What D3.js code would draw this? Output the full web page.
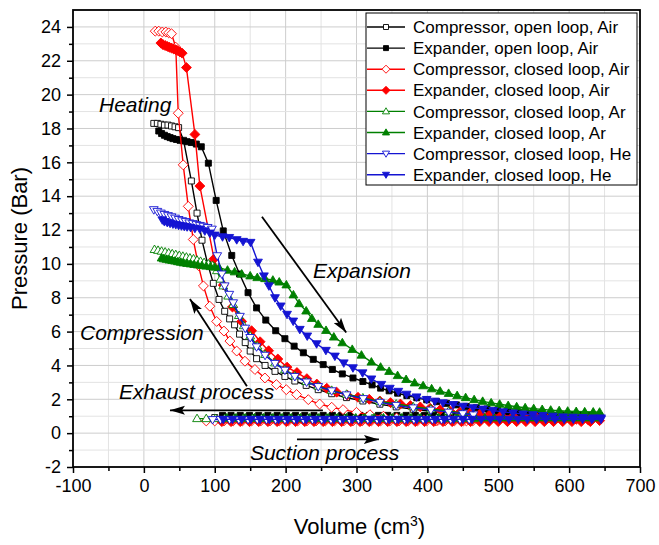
<!DOCTYPE html>
<html>
<head>
<meta charset="utf-8">
<script src="https://cdn.jsdelivr.net/npm/d3@7"></script>
<style>
  body { margin: 0; background: #fff; }
  svg { display: block; font-family: "Liberation Sans", Arial, sans-serif; }
</style>
</head>
<body>
<svg id="chart" width="659" height="545"></svg>
<script>
// P-V loops: [volume cm3, pressure bar]

const compOpenAir = [
  [14,18.3],[19,18.3],[24,18.25],[29,18.2],[34,18.2],[39,18.15],[44,18.1],[49,18.05],[56,17.3],
  [67,14.9],[75,13.0],[82,11.4],[90,10.0],[98,8.85],[106,7.9],[114,7.2],[121,6.75],[128,6.4],[135,5.85],
  [143,5.35],[150,4.85],[159,4.4],[171,4.0],[185,3.65],[199,3.35],[213,3.08],[229,2.82],[246,2.57],
  [265,2.33],[286,2.1],[309,1.9],[333,1.71],[356,1.55],[380,1.41],[405,1.29],[430,1.17],[450,1.09],[463,1.03],
  [463,0.92],[450,0.92],[437,0.92],[424,0.92],[411,0.93],[398,0.93],[385,0.92],[372,0.92],[359,0.92],
  [346,0.93],[333,0.92],[320,0.92],[307,0.92],[294,0.93],[281,0.92],[268,0.92],[255,0.92],[242,0.92],
  [229,0.93],[216,0.92],[203,0.92],[190,0.92],[177,0.92],[164,0.93],[151,0.92],[138,0.92],[125,0.92],
  [112,0.92],[100,0.92]
];

const expOpenAir = [
  [21,17.85],[25,17.7],[29,17.6],[33,17.52],[37,17.46],[41,17.4],[46,17.35],[51,17.3],[56,17.26],
  [61,17.22],[67,17.17],[74,17.08],[81,16.92],[91,15.95],[102,13.75],[112,11.95],[124,10.5],[135,9.4],
  [147,8.3],[159,7.4],[172,6.68],[186,6.05],[199,5.58],[212,5.14],[225,4.75],[239,4.36],[253,4.05],
  [266,3.76],[280,3.5],[295,3.26],[309,3.05],[322,2.85],[334,2.66],[346,2.5],[358,2.36],[371,2.22],
  [385,2.09],[399,1.97],[413,1.86],[427,1.76],[441,1.67],[455,1.58],[469,1.5],[484,1.43],[499,1.36],
  [514,1.3],[529,1.24],[544,1.19],[559,1.15],[574,1.11],[589,1.08],[604,1.06],[619,1.04],[632,1.03],[643,1.02],
  [630,1.05],[617,1.05],[604,1.05],[591,1.05],[578,1.05],[565,1.05],[552,1.05],[539,1.05],[526,1.05],
  [513,1.05],[500,1.05],[487,1.05],[474,1.05],[461,1.05],[448,1.05],[435,1.05],[422,1.05],[409,1.05],
  [396,1.05],[383,1.05],[370,1.05],[357,1.05],[344,1.05],[331,1.05],[318,1.05],[305,1.05],[292,1.05],
  [279,1.05],[266,1.05],[253,1.05],[240,1.05],[227,1.05],[214,1.05],[201,1.05],[188,1.05],[175,1.05],
  [162,1.05],[149,1.05],[136,1.05],[123,1.05],[111,1.05]
];

const compClosedAir = [
  [16,23.75],[21,23.75],[26,23.7],[31,23.7],[35,23.65],[39,23.6],[45,22.8],[48.5,18.9],[55.5,15.85],
  [62.6,13.4],[69.7,11.44],[77,9.9],[84,8.7],[93,7.5],[102.7,6.6],[113,6.03],[121.4,5.44],[131,4.85],
  [142.6,4.25],[156.7,3.76],[170.8,3.26],[187,2.87],[201,2.57],[215.5,2.28],[232,1.98],[248,1.72],
  [265,1.53],[281,1.39],[300,1.23],[319,1.09],[338,1.0],[356.5,0.9],[375,0.83],[395,0.78],[415,0.75],
  [435,0.73],[455,0.72],[464,0.72],
  [451,0.72],[438,0.72],[425,0.72],[412,0.72],[399,0.72],[386,0.72],[373,0.72],[360,0.72],[347,0.72],
  [334,0.72],[321,0.72],[308,0.72],[295,0.72],[282,0.72],[269,0.72],[256,0.72],[243,0.72],[230,0.72],
  [217,0.72],[204,0.72],[191,0.72],[178,0.72],[165,0.72],[152,0.72],[139,0.72],[126,0.72],[113,0.72],
  [100,0.72],[88,0.72]
];

const expClosedAir = [
  [24,23.05],[27,22.95],[30,22.9],[33,22.85],[36,22.8],[39,22.75],[42,22.7],[45,22.65],[48,22.6],
  [51,22.52],[54,22.45],[60,21.6],[72,17.65],[79,14.6],[99,10.3],[112,8.75],[125,7.45],[138,6.6],
  [152,6.05],[164,5.4],[176,4.87],[189,4.38],[202,3.9],[216,3.58],[230,3.22],[244,2.9],[258,2.65],
  [272,2.42],[287,2.25],[302,2.12],[318,2.0],[333,1.9],[348,1.8],[362,1.72],[376,1.63],[390,1.55],
  [404,1.47],[418,1.38],[432,1.3],[446,1.24],[460,1.18],[474,1.13],[488,1.09],[504,1.04],[521,1.0],
  [537,0.96],[554,0.93],[571,0.89],[591,0.86],[610,0.82],[627,0.78],[643,0.74],
  [630,0.68],[617,0.68],[604,0.68],[591,0.68],[578,0.68],[565,0.68],[552,0.68],[539,0.68],[526,0.68],
  [513,0.68],[500,0.68],[487,0.68],[474,0.68],[461,0.68],[448,0.68],[435,0.68],[422,0.68],[409,0.68],
  [396,0.68],[383,0.68],[370,0.68],[357,0.68],[344,0.68],[331,0.68],[318,0.68],[305,0.68],[292,0.68],
  [279,0.68],[266,0.68],[253,0.68],[240,0.68],[227,0.68],[214,0.68],[201,0.68],[188,0.68],[175,0.68],
  [162,0.68],[149,0.68],[136,0.68],[123,0.68],[110,0.68]
];

const compClosedAr = [
  [15,10.85],[20,10.8],[25,10.75],[30,10.7],[35,10.65],[40,10.6],[45,10.55],[50,10.5],[55,10.45],
  [60,10.4],[65,10.35],[70,10.3],[75,10.22],[80,10.15],[85,10.08],[91,10.0],[97,9.9],[103,9.6],
  [108,9.1],[112,8.7],[119,8.1],[126,7.6],[134,6.95],[141,6.35],[150,5.75],[160,5.15],[171,4.65],
  [185,4.15],[199,3.75],[213,3.38],[229,3.05],[246,2.78],[265,2.53],[286,2.3],[309,2.08],[333,1.88],
  [356,1.72],[380,1.56],[405,1.43],[430,1.3],[450,1.2],[465,1.12],
  [465,0.86],[452,0.86],[439,0.86],[426,0.86],[413,0.86],[400,0.86],[387,0.86],[374,0.86],[361,0.86],
  [348,0.86],[335,0.86],[322,0.86],[309,0.86],[296,0.86],[283,0.86],[270,0.86],[257,0.86],[244,0.86],
  [231,0.86],[218,0.86],[205,0.86],[192,0.86],[179,0.86],[166,0.86],[153,0.86],[140,0.86],[127,0.86],
  [114,0.86],[101,0.86],[88,0.86],[75,0.86]
];

const expClosedAr = [
  [25,10.35],[28,10.3],[32,10.27],[36,10.23],[40,10.2],[44,10.17],[48,10.13],[52,10.1],[56,10.06],
  [61,10.03],[66,10.0],[71,9.97],[76,9.94],[82,9.9],[88,9.87],[94,9.84],[100,9.81],[106,9.78],
  [118,9.63],[128,9.53],[138,9.4],[150,9.29],[160,9.19],[171,9.13],[182,9.04],[191,8.93],[201,8.76],
  [211,8.17],[219,7.65],[229,7.22],[237,6.78],[246,6.43],[257,6.07],[268,5.68],[280,5.34],[294,4.95],
  [307,4.61],[321,4.2],[334,3.9],[346,3.65],[358,3.4],[370,3.17],[382,2.97],[394,2.8],[406,2.62],
  [418,2.48],[430,2.35],[442,2.22],[454,2.1],[466,1.98],[478,1.88],[490,1.79],[502,1.71],[514,1.63],
  [526,1.56],[538,1.5],[550,1.45],[562,1.4],[574,1.36],[586,1.33],[598,1.3],[610,1.28],[622,1.26],
  [634,1.25],[643,1.24],
  [637,0.9],[624,0.9],[611,0.9],[598,0.9],[585,0.9],[572,0.9],[559,0.9],[546,0.9],[533,0.9],
  [520,0.9],[507,0.9],[494,0.9],[481,0.9],[468,0.9],[455,0.9],[442,0.9],[429,0.9],[416,0.9],
  [403,0.9],[390,0.9],[377,0.9],[364,0.9],[351,0.9],[338,0.9],[325,0.9],[312,0.9],[299,0.9],
  [286,0.9],[273,0.9],[260,0.9],[247,0.9],[234,0.9],[221,0.9],[208,0.9],[195,0.9],[182,0.9],
  [169,0.9],[156,0.9],[143,0.9],[130,0.9],[117,0.9]
];

const compClosedHe = [
  [14,13.2],[19,13.1],[24,13.0],[29,12.92],[34,12.85],[39,12.78],[44,12.7],[49,12.62],[54,12.55],
  [59,12.5],[64,12.42],[69,12.38],[74,12.32],[79,12.27],[84,12.22],[90,12.15],[96,12.05],[103.5,10.48],
  [110,9.4],[114,8.7],[120.5,8.2],[126,7.7],[135.5,6.9],[143,6.2],[150,5.65],[159,5.1],[171,4.6],
  [185,4.12],[199,3.72],[213,3.35],[229.6,3.02],[246,2.75],[265,2.5],[286,2.26],[309.5,2.04],
  [333,1.82],[356,1.64],[380,1.49],[405,1.36],[430,1.24],[450,1.15],[465,1.08],
  [459,0.8],[446,0.8],[433,0.8],[420,0.8],[407,0.8],[394,0.8],[381,0.8],[368,0.8],[355,0.8],
  [342,0.8],[329,0.8],[316,0.8],[303,0.8],[290,0.8],[277,0.8],[264,0.8],[251,0.8],[238,0.8],
  [225,0.8],[212,0.8],[199,0.8],[186,0.8],[173,0.8],[160,0.8],[147,0.8],[134,0.8],[121,0.8],
  [108,0.8],[97,0.8]
];

const expClosedHe = [
  [26,12.6],[29,12.5],[33,12.45],[37,12.4],[41,12.36],[45,12.32],[49,12.28],[53,12.25],[57,12.22],
  [61,12.19],[66,12.15],[72,12.1],[79,12.06],[86,11.95],[93,11.82],[100,11.7],[111,11.6],[120.5,11.56],
  [131,11.43],[140,11.33],[150.6,11.27],[161,10.1],[169.4,9.29],[176.4,8.7],[185,8.0],[193,7.51],
  [202,7.02],[210.7,6.62],[220,6.13],[230.5,5.74],[243.7,5.28],[256.8,4.89],[269.5,4.55],[282,4.15],
  [295,3.86],[308.6,3.56],[321,3.2],[335,2.88],[347,2.65],[359,2.47],[370.6,2.3],[384.7,2.14],
  [399,1.99],[410.6,1.89],[422,1.79],[436.6,1.69],[450.6,1.59],[464.6,1.5],[478.7,1.42],[492.8,1.34],
  [507,1.26],[521,1.19],[535,1.13],[549,1.09],[563,1.04],[577,1.0],[591.5,0.96],[605.6,0.94],
  [619.7,0.92],[633.8,0.9],[645,0.9],
  [645,0.82],[632,0.82],[619,0.82],[606,0.82],[593,0.82],[580,0.82],[567,0.82],[554,0.82],[541,0.82],
  [528,0.82],[515,0.82],[502,0.82],[489,0.82],[476,0.82],[463,0.82],[450,0.82],[437,0.82],[424,0.82],
  [411,0.82],[398,0.82],[385,0.82],[372,0.82],[359,0.82],[346,0.82],[333,0.82],[320,0.82],[307,0.82],
  [294,0.82],[281,0.82],[268,0.82],[255,0.82],[242,0.82],[229,0.82],[216,0.82],[203,0.82],[190,0.82],
  [177,0.82],[164,0.82],[151,0.82],[138,0.82],[125,0.82],[112,0.82]
];

const seriesNames = [
  "Compressor, open loop, Air", "Expander, open loop, Air",
  "Compressor, closed loop, Air", "Expander, closed loop, Air",
  "Compressor, closed loop, Ar", "Expander, closed loop, Ar",
  "Compressor, closed loop, He", "Expander, closed loop, He"
];
const seriesData = [compOpenAir, expOpenAir, compClosedAir, expClosedAir,
                    compClosedAr, expClosedAr, compClosedHe, expClosedHe];

const xTicks = [-100, 0, 100, 200, 300, 400, 500, 600, 700];
const yTicks = [-2, 0, 2, 4, 6, 8, 10, 12, 14, 16, 18, 20, 22, 24];
const xMinor = [-50, 50, 150, 250, 350, 450, 550, 650];
const yMinor = [-1, 1, 3, 5, 7, 9, 11, 13, 15, 17, 19, 21, 23];

// styles
const colors = ["#000", "#000", "#ff0000", "#ff0000", "#008000", "#008000", "#1414d2", "#1414d2"];
const shapes = ["square", "square", "diamond", "diamond", "up", "up", "down", "down"];
const filled = [false, true, false, true, false, true, false, true];

const width = 659, height = 545;
const plot = { left: 73, right: 640, top: 10, bottom: 467 };

const x = d3.scaleLinear().domain([-100, 700]).range([plot.left, plot.right]);
const y = d3.scaleLinear().domain([-2, 25]).range([plot.bottom, plot.top]);

const svg = d3.select("#chart").attr("viewBox", [0, 0, width, height]);

// grid
const grid = svg.append("g");
grid.selectAll(".vg").data(xMinor.concat(xTicks.slice(1, -1))).join("line")
  .attr("x1", d => x(d)).attr("x2", d => x(d))
  .attr("y1", plot.top).attr("y2", plot.bottom)
  .attr("stroke", d => d % 100 === 0 ? "#cdcdcd" : "#e3e3e3").attr("stroke-width", 1);
grid.selectAll(".hg").data(yMinor.concat(yTicks.slice(1))).join("line")
  .attr("y1", d => y(d)).attr("y2", d => y(d))
  .attr("x1", plot.left).attr("x2", plot.right)
  .attr("stroke", d => d % 2 === 0 ? "#cdcdcd" : "#e3e3e3").attr("stroke-width", 1);

// series
svg.append("clipPath").attr("id", "clip").append("rect")
  .attr("x", plot.left).attr("y", plot.top)
  .attr("width", plot.right - plot.left).attr("height", plot.bottom - plot.top);

function symbolPath(shape, s) {
  if (shape === "square") return d3.symbol(d3.symbolSquare, s * s)();
  if (shape === "diamond") return `M0,${-s * 0.62}L${s * 0.62},0L0,${s * 0.62}L${-s * 0.62},0Z`;
  const h = s * 0.9;
  if (shape === "up") return `M0,${-h * 0.62}L${s * 0.55},${h * 0.42}L${-s * 0.55},${h * 0.42}Z`;
  return `M0,${h * 0.62}L${s * 0.55},${-h * 0.42}L${-s * 0.55},${-h * 0.42}Z`;
}

const line = d3.line().x(d => x(d[0])).y(d => y(d[1]));
const marks = svg.append("g").attr("clip-path", "url(#clip)");

seriesData.forEach((data, i) => {
  const g = marks.append("g");
  g.append("path").attr("d", line(data))
    .attr("fill", "none").attr("stroke", colors[i]).attr("stroke-width", 1.4);
  g.selectAll("path.m").data(data).join("path").attr("class", "m")
    .attr("transform", d => `translate(${x(d[0])},${y(d[1])})`)
    .attr("d", symbolPath(shapes[i], shapes[i] === "square" ? 6 : 8))
    .attr("fill", filled[i] ? colors[i] : "#fff")
    .attr("stroke", colors[i]).attr("stroke-width", 0.9);
});

// axes
const fmt = d => String(d);
const xAxis = g => g
  .attr("transform", `translate(0,${plot.bottom})`)
  .call(d3.axisBottom(x).tickValues(xTicks).tickSize(6).tickPadding(6).tickFormat(fmt))
  .call(g => g.select(".domain").remove())
  .call(g => g.selectAll("text").attr("font-size", 18).attr("fill", "#000")
                                  .attr("font-family", "Liberation Sans, Arial, sans-serif"))
  .call(g => g.selectAll("line").attr("stroke-width", 1.5));
const xMinorAxis = g => g
  .attr("transform", `translate(0,${plot.bottom})`)
  .call(d3.axisBottom(x).tickValues(xMinor).tickSize(4).tickFormat(""))
  .call(g => g.select(".domain").remove())
  .call(g => g.selectAll("line").attr("stroke-width", 1.5));
const yAxis = g => g
  .attr("transform", `translate(${plot.left},0)`)
  .call(d3.axisLeft(y).tickValues(yTicks).tickSize(6).tickPadding(6).tickFormat(fmt))
  .call(g => g.select(".domain").remove())
  .call(g => g.selectAll("text").attr("font-size", 18).attr("fill", "#000")
                                  .attr("font-family", "Liberation Sans, Arial, sans-serif"))
  .call(g => g.selectAll("line").attr("stroke-width", 1.5));
const yMinorAxis = g => g
  .attr("transform", `translate(${plot.left},0)`)
  .call(d3.axisLeft(y).tickValues(yMinor).tickSize(4).tickFormat(""))
  .call(g => g.select(".domain").remove())
  .call(g => g.selectAll("line").attr("stroke-width", 1.5));

svg.append("g").call(xAxis);
svg.append("g").call(xMinorAxis);
svg.append("g").call(yAxis);
svg.append("g").call(yMinorAxis);

svg.append("rect")
  .attr("x", plot.left).attr("y", plot.top)
  .attr("width", plot.right - plot.left).attr("height", plot.bottom - plot.top)
  .attr("fill", "none").attr("stroke", "#000").attr("stroke-width", 1.8);

// axis titles
const xTitle = svg.append("text")
  .attr("x", (x(-100) + x(700)) / 2 + 3).attr("y", 534)
  .attr("text-anchor", "middle").attr("font-size", 22);
xTitle.append("tspan").text("Volume (cm");
xTitle.append("tspan").attr("baseline-shift", "super").attr("font-size", 14).text("3");
xTitle.append("tspan").text(")");

svg.append("text")
  .attr("transform", `translate(27,${(plot.top + plot.bottom) / 2}) rotate(-90)`)
  .attr("text-anchor", "middle").attr("font-size", 22)
  .text("Pressure (Bar)");

// annotations
svg.append("defs").append("marker")
  .attr("id", "arrow").attr("markerUnits", "userSpaceOnUse")
  .attr("markerWidth", 16).attr("markerHeight", 10)
  .attr("refX", 15).attr("refY", 5).attr("orient", "auto")
  .append("path").attr("d", "M0,0.5L15,5L0,9.5L3,5Z").attr("fill", "#000");

const arrows = [
  [[166.6, 12.79], [285.5, 5.95]],
  [[145.4, 2.77], [65, 7.93]],
  [[252.6, 1.35], [36.8, 1.35]],
  [[216, -0.37], [331.6, -0.37]]
];
svg.append("g").selectAll("line").data(arrows).join("line")
  .attr("x1", d => x(d[0][0])).attr("y1", d => y(d[0][1]))
  .attr("x2", d => x(d[1][0])).attr("y2", d => y(d[1][1]))
  .attr("stroke", "#000").attr("stroke-width", 1.8)
  .attr("marker-end", "url(#arrow)");

const notes = [
  ["Heating", -63.3, 19.0],
  ["Expansion", 238.5, 9.17],
  ["Compression", -90.1, 5.5],
  ["Exhaust process", -35.1, 2.0],
  ["Suction process", 149.6, -1.56]
];
svg.append("g").selectAll("text").data(notes).join("text")
  .attr("x", d => x(d[1])).attr("y", d => y(d[2]))
  .attr("font-size", 21).attr("font-style", "italic")
  .text(d => d[0]);

// legend
const legend = svg.append("g");
legend.append("rect").attr("x", 366).attr("y", 13).attr("width", 271).attr("height", 172)
  .attr("fill", "#fff").attr("stroke", "#000").attr("stroke-width", 1);
seriesNames.forEach((name, i) => {
  const ly = 27 + i * 21.1;
  legend.append("line").attr("x1", 367).attr("x2", 405).attr("y1", ly).attr("y2", ly)
    .attr("stroke", colors[i]).attr("stroke-width", 1.4);
  legend.append("path").attr("transform", `translate(386,${ly})`)
    .attr("d", symbolPath(shapes[i], shapes[i] === "square" ? 5 : 6.5))
    .attr("fill", filled[i] ? colors[i] : "#fff")
    .attr("stroke", colors[i]).attr("stroke-width", 0.9);
  legend.append("text").attr("x", 413).attr("y", ly).attr("dy", "0.36em")
    .attr("font-size", 17).text(name);
});
</script>
</body>
</html>
